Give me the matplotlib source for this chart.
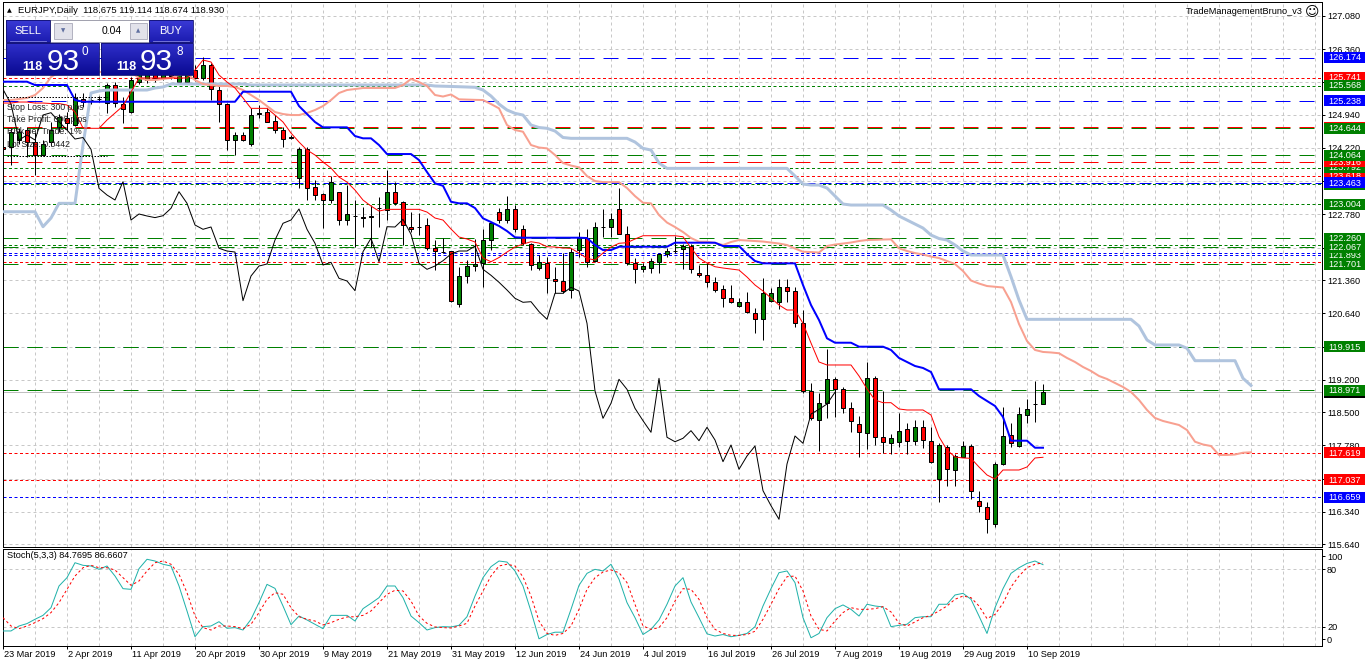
import numpy as np
import matplotlib
matplotlib.use('Agg')
import matplotlib.pyplot as plt
from matplotlib.patches import Rectangle
from matplotlib.colors import LinearSegmentedColormap
from matplotlib.transforms import blended_transform_factory

plt.rcParams['font.family'] = ['Liberation Sans', 'DejaVu Sans']
plt.rcParams['lines.scale_dashes'] = False
plt.rcParams['axes.linewidth'] = 0.72

# ---------------- data ----------------
opens = [124.239, 124.232, 124.390, 124.607, 124.354, 124.066, 124.347, 124.678, 124.866, 124.715,
         125.272, 125.257, 125.278, 125.185, 125.581, 125.170, 125.003, 125.653, 125.689, 125.906,
         125.733, 125.949, 125.653, 125.653, 125.906, 125.726, 126.014, 125.473, 125.170, 124.391,
         124.499, 124.298, 124.947, 125.003, 124.802, 124.607, 124.456, 123.562, 124.189, 123.380,
         123.216, 123.092, 123.272, 122.659, 122.752, 122.718, 122.718, 122.919, 122.876, 123.272,
         123.042, 122.514, 122.514, 122.551, 122.047, 121.973, 121.988, 120.841, 121.447, 121.663,
         121.722, 122.226, 122.839, 122.659, 122.897, 122.458, 122.133, 121.614, 121.722, 121.382,
         121.339, 121.144, 122.009, 122.263, 121.778, 122.514, 122.514, 122.891, 122.350, 121.722,
         121.592, 121.614, 121.756, 121.916, 121.994, 122.031, 122.096, 121.505, 121.462, 121.311,
         121.166, 120.964, 120.804, 120.878, 120.640, 120.510, 120.913, 120.891, 121.215, 121.122,
         120.423, 118.958, 118.330, 118.692, 119.211, 118.994, 118.583, 118.237, 118.042, 119.232,
         117.956, 117.839, 117.860, 118.129, 117.882, 118.172, 117.882, 117.047, 117.739, 117.248,
         117.536, 117.767, 116.577, 116.453, 116.079, 117.378, 118.006, 117.774, 118.438, 118.670,
         118.675]
highs = [124.369, 124.650, 124.650, 124.672, 124.570, 124.391, 124.780, 124.960, 124.997, 125.408,
         125.408, 125.343, 125.343, 125.625, 125.646, 125.328, 125.754, 125.949, 126.014, 125.992,
         126.057, 126.036, 125.992, 126.036, 126.014, 126.194, 126.057, 125.625, 125.185, 124.570,
         124.570, 125.083, 125.148, 125.083, 124.932, 124.672, 124.499, 124.239, 124.246, 123.525,
         123.243, 123.612, 123.272, 123.417, 123.092, 122.947, 122.984, 123.163, 123.741, 123.488,
         123.077, 122.839, 122.804, 122.696, 122.226, 122.263, 121.988, 121.648, 121.792, 122.241,
         122.458, 122.622, 122.912, 123.179, 122.984, 122.551, 122.155, 121.902, 121.865, 121.648,
         121.945, 122.053, 122.406, 122.464, 122.622, 122.891, 122.804, 123.345, 122.529, 121.837,
         121.722, 121.830, 121.951, 122.047, 122.313, 122.140, 122.140, 121.685, 121.722, 121.432,
         121.252, 121.252, 120.964, 121.107, 120.748, 121.397, 121.181, 121.376, 121.376, 121.215,
         120.711, 119.124, 118.908, 119.867, 119.267, 119.051, 118.726, 118.416, 119.592, 119.282,
         118.964, 118.027, 118.488, 118.272, 118.330, 118.330, 118.185, 117.826, 117.789, 117.594,
         117.882, 117.810, 116.800, 116.562, 117.428, 118.605, 118.259, 118.605, 118.791, 119.174,
         119.114]
lows = [124.044, 123.850, 124.300, 124.023, 123.633, 124.044, 124.261, 124.560, 124.607, 124.700,
        125.105, 125.170, 125.213, 124.969, 125.112, 124.765, 124.975, 125.603, 125.625, 125.646,
        125.689, 125.711, 125.603, 125.625, 125.668, 125.689, 125.257, 124.787, 124.174, 124.066,
        124.369, 124.261, 124.867, 124.780, 124.542, 124.239, 124.412, 123.352, 123.092, 123.092,
        122.486, 123.021, 122.551, 122.551, 122.081, 122.514, 122.081, 122.514, 122.659, 122.984,
        122.118, 122.406, 122.334, 122.009, 121.577, 121.938, 120.891, 120.783, 121.302, 121.555,
        121.215, 122.009, 122.588, 122.588, 122.406, 122.118, 121.577, 121.577, 121.079, 121.073,
        121.079, 120.971, 121.865, 121.648, 121.756, 122.298, 122.298, 122.350, 121.685, 121.302,
        121.540, 121.505, 121.505, 121.852, 121.951, 121.592, 121.505, 121.425, 121.215, 121.107,
        120.770, 120.856, 120.770, 120.640, 120.207, 120.062, 120.891, 120.726, 120.891, 120.350,
        118.908, 118.330, 117.666, 118.367, 118.401, 118.488, 118.077, 117.523, 117.696, 117.789,
        117.622, 117.594, 117.752, 117.594, 117.789, 117.718, 117.406, 116.562, 116.903, 116.903,
        117.523, 116.614, 116.345, 115.877, 116.008, 117.356, 117.752, 117.739, 118.272, 118.293,
        118.674]
closes = [124.196, 124.570, 124.570, 124.354, 124.066, 124.304, 124.607, 124.895, 124.758, 125.293,
          125.220, 125.246, 125.272, 125.581, 125.185, 125.055, 125.689, 125.863, 125.906, 125.733,
          125.949, 125.776, 125.863, 125.906, 125.733, 126.014, 125.488, 125.170, 124.391, 124.499,
          124.391, 124.932, 124.982, 124.787, 124.607, 124.412, 124.445, 124.189, 123.345, 123.200,
          123.092, 123.488, 122.659, 122.789, 122.746, 122.711, 122.752, 122.912, 123.272, 123.021,
          122.551, 122.458, 122.508, 122.047, 121.988, 121.966, 120.913, 121.447, 121.663, 121.707,
          122.226, 122.588, 122.659, 122.897, 122.458, 122.155, 121.685, 121.743, 121.397, 121.339,
          121.129, 121.973, 122.263, 121.756, 122.514, 122.508, 122.674, 122.350, 121.722, 121.592,
          121.663, 121.778, 121.923, 121.988, 121.988, 122.096, 121.592, 121.462, 121.311, 121.144,
          120.964, 120.878, 120.891, 120.676, 120.510, 121.073, 121.073, 121.202, 121.122, 120.423,
          118.958, 118.367, 118.692, 119.211, 118.994, 118.583, 118.315, 118.064, 119.232, 117.956,
          117.860, 117.934, 118.099, 117.882, 118.172, 117.897, 117.428, 117.789, 117.263, 117.551,
          117.767, 116.800, 116.475, 116.181, 117.378, 117.984, 117.826, 118.460, 118.562, 118.676,
          118.930]

tenkan = [125.191, 125.191, 125.213, 125.213, 125.191, 125.191, 125.180, 125.180, 125.148, 124.996,
          124.650, 124.644, 124.644, 124.823, 124.975, 125.126, 125.430, 125.733, 125.733, 125.733,
          125.733, 125.733, 125.733, 125.733, 125.906, 126.122, 126.079, 125.798, 125.646, 125.516,
          125.300, 125.076, 125.076, 125.076, 124.931, 124.780, 124.542, 124.347, 124.174, 124.066,
          123.914, 123.784, 123.589, 123.480, 123.307, 123.091, 122.961, 122.853, 122.890, 122.890,
          122.890, 122.890, 122.890, 122.831, 122.702, 122.658, 122.464, 122.291, 122.248, 122.183,
          121.836, 121.756, 121.847, 121.966, 122.074, 122.139, 122.189, 122.161, 122.081, 122.074,
          122.053, 122.046, 121.944, 121.829, 121.793, 121.944, 122.074, 122.155, 122.168, 122.248,
          122.319, 122.319, 122.319, 122.319, 122.319, 122.297, 122.053, 121.836, 121.728, 121.648,
          121.620, 121.598, 121.576, 121.425, 121.252, 121.122, 120.970, 120.819, 120.711, 120.711,
          120.423, 119.997, 119.586, 119.521, 119.521, 119.521, 119.521, 119.283, 119.004, 118.763,
          118.705, 118.705, 118.569, 118.547, 118.547, 118.547, 118.438, 117.968, 117.681, 117.529,
          117.508, 117.501, 117.313, 117.140, 117.053, 117.248, 117.248, 117.248, 117.313, 117.508,
          117.523]

kijun = [125.653, 125.653, 125.653, 125.653, 125.581, 125.581, 125.581, 125.581, 125.581, 125.256,
         125.219, 125.219, 125.219, 125.219, 125.219, 125.219, 125.219, 125.219, 125.219, 125.219,
         125.219, 125.219, 125.219, 125.219, 125.219, 125.219, 125.219, 125.219, 125.219, 125.219,
         125.436, 125.436, 125.436, 125.436, 125.436, 125.436, 125.436, 125.126, 124.953, 124.780,
         124.665, 124.665, 124.665, 124.665, 124.477, 124.427, 124.427, 124.282, 124.087, 124.087,
         124.087, 124.087, 123.957, 123.697, 123.452, 123.400, 123.054, 123.020, 123.020, 122.918,
         122.695, 122.615, 122.529, 122.420, 122.284, 122.276, 122.276, 122.276, 122.276, 122.276,
         122.276, 122.276, 122.276, 122.269, 122.118, 122.009, 122.009, 122.081, 122.081, 122.081,
         122.081, 122.081, 122.081, 122.081, 122.168, 122.168, 122.168, 122.168, 122.168, 122.168,
         122.096, 122.096, 122.096, 121.923, 121.771, 121.721, 121.721, 121.721, 121.721, 121.721,
         121.252, 120.819, 120.494, 120.098, 120.003, 120.003, 120.003, 119.917, 119.917, 119.917,
         119.917, 119.846, 119.673, 119.586, 119.499, 119.456, 119.369, 118.995, 118.995, 118.995,
         118.995, 118.995, 118.850, 118.742, 118.634, 118.395, 117.882, 117.882, 117.882, 117.730,
         117.730]

senkou_a = [125.256, 125.256, 125.278, 125.300, 125.365, 125.516, 125.754, 125.863, 125.863, 125.863,
            125.863, 125.863, 125.863, 125.863, 125.863, 125.863, 125.863, 125.733, 125.689, 125.689,
            125.711, 125.733, 125.798, 125.819, 125.689, 125.603, 125.581, 125.560, 125.560, 125.538,
            125.473, 125.365, 125.256, 125.126, 124.996, 124.953, 124.931, 124.931, 124.975, 125.040,
            125.126, 125.256, 125.408, 125.473, 125.495, 125.516, 125.516, 125.516, 125.516, 125.516,
            125.581, 125.711, 125.646, 125.560, 125.365, 125.332, 125.376, 125.271, 125.265, 125.260,
            125.256, 125.169, 125.076, 124.715, 124.607, 124.570, 124.282, 124.228, 124.210, 124.066,
            123.892, 123.838, 123.799, 123.611, 123.502, 123.480, 123.480, 123.480, 123.351, 123.177,
            123.033, 123.020, 122.766, 122.604, 122.507, 122.399, 122.269, 122.189, 122.189, 122.161,
            122.118, 122.183, 122.226, 122.215, 122.204, 122.193, 122.172, 122.150, 122.118, 122.042,
            121.972, 121.966, 121.955, 122.096, 122.128, 122.150, 122.172, 122.204, 122.226, 122.230,
            122.237, 122.241, 122.046, 121.988, 121.944, 121.912, 121.868, 121.836, 121.771, 121.706,
            121.555, 121.349, 121.284, 121.230, 121.215, 121.198, 120.884, 120.408, 120.040, 119.846,
            119.803, 119.792, 119.775, 119.673, 119.586, 119.478, 119.391, 119.283, 119.218, 119.131,
            119.045, 118.936, 118.763, 118.547, 118.374, 118.309, 118.265, 118.222, 118.113, 117.860,
            117.800, 117.767, 117.573, 117.573, 117.583, 117.622, 117.631]

senkou_b = [122.838, 122.838, 122.838, 122.838, 122.838, 122.514, 122.702, 123.020, 123.020, 123.020,
            124.282, 125.408, 125.451, 125.473, 125.473, 125.473, 125.473, 125.473, 125.473, 125.516,
            125.538, 125.603, 125.603, 125.603, 125.603, 125.603, 125.603, 125.603, 125.603, 125.603,
            125.603, 125.581, 125.581, 125.581, 125.581, 125.581, 125.581, 125.581, 125.581, 125.581,
            125.581, 125.581, 125.581, 125.581, 125.581, 125.581, 125.581, 125.581, 125.581, 125.581,
            125.581, 125.581, 125.581, 125.581, 125.560, 125.554, 125.550, 125.545, 125.538, 125.532,
            125.473, 125.343, 125.169, 125.040, 124.968, 124.931, 124.715, 124.661, 124.644, 124.585,
            124.445, 124.427, 124.427, 124.427, 124.427, 124.427, 124.427, 124.427, 124.427, 124.347,
            124.210, 124.174, 123.892, 123.777, 123.777, 123.777, 123.777, 123.777, 123.777, 123.777,
            123.777, 123.777, 123.777, 123.777, 123.777, 123.777, 123.777, 123.777, 123.777, 123.611,
            123.437, 123.416, 123.416, 123.351, 123.177, 123.005, 122.983, 122.983, 122.983, 122.983,
            122.983, 122.874, 122.745, 122.658, 122.572, 122.485, 122.334, 122.258, 122.226, 122.118,
            121.988, 121.901, 121.901, 121.901, 121.901, 121.901, 121.432, 120.927, 120.509, 120.509,
            120.509, 120.509, 120.509, 120.509, 120.509, 120.509, 120.509, 120.509, 120.509, 120.509,
            120.509, 120.509, 120.364, 120.062, 119.954, 119.954, 119.954, 119.954, 119.883, 119.614,
            119.614, 119.614, 119.614, 119.614, 119.614, 119.233, 119.077]

stoch_k = [15.5, 15.5, 20.7, 23.2, 27.7, 31.8, 39.8, 62.5, 71.2, 86.8,
           84.1, 83.4, 79.9, 83.4, 72.9, 59.7, 59.0, 80.6, 90.4, 88.6,
           85.2, 83.4, 62.5, 36.4, 9.5, 20.0, 20.7, 25.2, 18.3, 19.0,
           16.5, 27.7, 45.1, 64.2, 60.0, 41.6, 22.1, 31.1, 27.0, 22.5,
           17.9, 31.8, 31.8, 31.8, 25.9, 38.8, 44.4, 50.3, 62.5, 62.5,
           50.3, 31.1, 24.2, 16.5, 19.0, 20.0, 19.7, 21.4, 30.4, 52.0,
           71.2, 82.7, 88.6, 87.5, 78.2, 62.5, 36.0, 7.3, 11.8, 14.2,
           14.2, 38.1, 63.2, 75.7, 79.9, 78.2, 85.2, 69.5, 45.1, 29.4,
           11.8, 17.2, 27.0, 43.4, 62.5, 71.2, 45.8, 29.4, 12.5, 10.2,
           11.8, 9.5, 10.9, 12.9, 20.0, 41.6, 59.7, 76.4, 78.2, 66.0,
           29.4, 8.4, 12.9, 29.4, 38.8, 42.7, 38.1, 31.1, 43.4, 41.6,
           40.6, 20.0, 21.4, 22.5, 29.4, 30.4, 30.4, 43.4, 43.4, 53.1,
           54.8, 48.6, 31.1, 12.9, 39.8, 59.7, 75.7, 81.6, 86.1, 88.6,
           84.77]
stoch_d = [29.4, 20.7, 17.9, 20.7, 24.2, 28.4, 34.7, 45.1, 59.0, 72.9,
           81.6, 84.1, 81.6, 81.6, 79.2, 71.2, 63.2, 67.7, 78.2, 86.8,
           88.6, 85.2, 74.7, 55.5, 31.1, 19.0, 16.5, 20.7, 20.7, 20.0,
           17.9, 22.5, 34.7, 48.6, 55.5, 53.8, 39.8, 30.4, 27.7, 25.9,
           21.8, 24.2, 27.7, 30.1, 30.4, 31.8, 36.4, 45.1, 53.8, 58.0,
           57.3, 46.8, 31.1, 23.5, 19.7, 19.0, 18.6, 20.7, 23.5, 41.6,
           57.3, 72.9, 83.4, 85.2, 83.4, 72.0, 52.0, 25.9, 12.9, 10.9,
           12.9, 20.7, 38.1, 59.0, 71.2, 77.1, 79.2, 76.4, 66.0, 43.4,
           20.7, 17.2, 19.0, 29.4, 46.8, 59.7, 59.0, 48.6, 29.4, 17.2,
           12.9, 10.9, 10.9, 11.8, 15.2, 27.7, 43.4, 59.7, 72.2, 72.9,
           57.3, 31.1, 17.2, 15.5, 25.9, 34.7, 39.8, 38.1, 38.1, 38.8,
           40.9, 35.4, 23.5, 20.7, 24.9, 29.4, 31.8, 36.4, 41.6, 48.6,
           52.0, 50.3, 41.6, 28.4, 32.8, 44.4, 61.5, 72.9, 81.6, 85.2,
           86.66]

date_labels = ['23 Mar 2019', '2 Apr 2019', '11 Apr 2019', '20 Apr 2019', '30 Apr 2019',
               '9 May 2019', '21 May 2019', '31 May 2019', '12 Jun 2019', '24 Jun 2019',
               '4 Jul 2019', '16 Jul 2019', '26 Jul 2019', '7 Aug 2019', '19 Aug 2019',
               '29 Aug 2019', '10 Sep 2019']
date_step = 8

price_ticks = [127.08, 126.36, 125.64, 124.94, 124.22, 123.50, 122.78, 122.06, 121.36,
               120.64, 119.92, 119.20, 118.50, 117.78, 117.06, 116.34, 115.64]

level_values = [126.174, 125.741, 125.568, 125.238, 124.665, 124.644, 124.064, 123.916, 123.792,
                123.618, 123.463, 123.43, 123.004, 122.260, 122.11, 122.067, 121.94, 121.893,
                121.75, 121.701, 119.915, 119.915, 118.971, 117.619, 117.037, 116.659]
level_colors = ['#0000ff', '#ff0000', '#008000', '#0000ff', '#ff0000', '#008000', '#008000', '#ff0000',
                '#008000', '#ff0000', '#0000ff', '#008000', '#008000', '#008000', '#008000', '#008000',
                '#0000ff', '#0000ff', '#ff0000', '#008000', '#0000ff', '#008000', '#008000', '#ff0000',
                '#ff0000', '#0000ff']
level_styles = ['dash', 'dot', 'dot', 'dash', 'dash', 'dash', 'dash', 'dash', 'dot', 'dot',
                'mdash', 'dot', 'dot', 'dash', 'dot', 'dash', 'dot', 'dot', 'dot', 'dash',
                'dash', 'dash', 'dash', 'dot', 'dot', 'dot']
bid_price = 118.930

label_levels = [126.174, 125.741, 125.568, 125.238, 124.665, 124.644, 124.064, 123.916, 123.792,
                123.618, 123.43, 123.463, 123.004, 122.260, 122.067, 121.893, 121.701, 119.915,
                118.930, 118.971, 117.619, 117.037, 116.659]
label_colors = ['#0000ff', '#ff0000', '#008000', '#0000ff', '#ff0000', '#008000', '#008000', '#ff0000',
                '#008000', '#ff0000', '#008000', '#0000ff', '#008000', '#008000', '#008000', '#008000',
                '#008000', '#008000', '#000000', '#008000', '#ff0000', '#ff0000', '#0000ff']
label_shown = [True, True, True, True, False, True, True, True, True, True, False, True, True,
               True, True, True, True, True, False, True, True, True, True]
label_z = [10, 10, 11, 10, 10, 11, 14, 13, 12, 11, 12.5, 15, 10, 14, 13, 12, 15, 10, 10, 11, 10, 10, 10]

trade_lines = [125.328, 124.044]
trade_texts = ['Stop Loss: 300 pips', 'Take Profit: 600 pips', 'Risk per Trade: 1%', 'Lot Size: 0.0442']

# ---------------- figure ----------------
W, H = 1368, 667
fig = plt.figure(figsize=(W / 100, H / 100), dpi=100)
fig.patch.set_facecolor('white')


def frac(l, t, r, b):
    return [l / W, 1 - b / H, (r - l) / W, (b - t) / H]


ax = fig.add_axes(frac(3, 2, 1322, 546.5))
axs = fig.add_axes(frac(3, 549, 1322, 645.5))
XMAX = 164.875
ax.set_xlim(0, XMAX)
ax.set_ylim(115.592, 127.378)
axs.set_xlim(0, XMAX)
axs.set_ylim(0.31, 101.15)

PX = 0.72
DASH = (0, (15 * PX, 9 * PX))
MDASH = (0, (12 * PX, 4 * PX))
DOT = (0, (3 * PX, 2.5 * PX))
style_map = {'dash': DASH, 'mdash': MDASH, 'dot': DOT}

grid_kw = dict(color='#c8c8c8', lw=PX, linestyle=(0, (3 * PX, 3 * PX)), zorder=0.5)
for a in (ax, axs):
    for g in range(4, 165, 4):
        a.axvline(g, **grid_kw)
for t in price_ticks:
    ax.axhline(t, **grid_kw)
for t in (80, 20):
    axs.axhline(t, **grid_kw)

for lv, col, st in zip(level_values, level_colors, level_styles):
    ax.axhline(lv, color=col, lw=PX, linestyle=style_map[st], zorder=1)
ax.axhline(bid_price, color='#c0c0c0', lw=PX, zorder=1)

# candles
o = np.array(opens); h = np.array(highs); l = np.array(lows); c = np.array(closes)
idx = np.arange(len(o))
up = c >= o
body_lo = np.minimum(o, c)
body_h = np.maximum(np.abs(c - o), 0.004)
cols = np.where(up, '#008000', '#ff0000')
ax.vlines(idx, l, h, color='black', lw=PX, zorder=2)
ax.bar(idx, body_h, bottom=body_lo, width=0.62, color=cols, edgecolor='black', linewidth=PX, zorder=2.1)

# ichimoku
ax.plot(np.arange(len(senkou_b)), senkou_b, color='#b0c4de', lw=3 * PX, zorder=3)
ax.plot(np.arange(len(senkou_a)), senkou_a, color='#f8a090', lw=2 * PX, zorder=3.1)
ax.plot(np.arange(len(closes) - 26), closes[26:], color='black', lw=PX, zorder=3.2)
ax.plot(idx, kijun, color='#0000ff', lw=2 * PX, zorder=3.3)
ax.plot(idx, tenkan, color='#ff0000', lw=PX, zorder=3.4)
ax.hlines(trade_lines, 0.5, 13, color='black', lw=PX, linestyle=(0, (1.5 * PX, 1.5 * PX)), zorder=3.5)

# stochastic
axs.plot(idx, stoch_k, color='#20b2aa', lw=PX, zorder=3)
axs.plot(idx, stoch_d, color='#ff0000', lw=PX, linestyle=(0, (2.5 * PX, 2.5 * PX)), zorder=3.1)

# axes ticks
ax.yaxis.tick_right()
ax.set_yticks(price_ticks)
ax.set_yticklabels([f'{t:.3f}' for t in price_ticks])
ax.tick_params(axis='y', length=3 * PX, width=PX, pad=2 * PX, labelsize=6.6)
ax.set_xticks([])
axs.yaxis.tick_right()
axs.set_yticks([93.7, 80, 20, 6.8])
axs.set_yticklabels(['100', '80', '20', '0'])
axs.tick_params(axis='y', length=3 * PX, width=PX, pad=2 * PX, labelsize=6.6)
date_idx = [k * date_step for k in range(len(date_labels))]
axs.set_xticks(date_idx)
axs.set_xticklabels([])
axs.tick_params(axis='x', length=3 * PX, width=PX)
trans = blended_transform_factory(axs.transData, axs.transAxes)
for i, lab in zip(date_idx, date_labels):
    axs.text(i + 0.15, -0.098, lab, transform=trans, ha='left', va='center', fontsize=6.6, clip_on=False)
axs.text(0.5, 0.93, 'Stoch(5,3,3) %.4f %.4f' % (84.7695, 86.6607), transform=trans, ha='left',
         va='center', fontsize=6.6)

# ---------------- overlay (pixel coords, y from top) ----------------
ov = fig.add_axes([0, 0, 1, 1])
ov.set_axis_off()
ov.patch.set_alpha(0)


def ypix(level):
    return H - ax.transData.transform((0, level))[1]


for lv, col, z, shown in zip(label_levels, label_colors, label_z, label_shown):
    y = ypix(lv)
    ov.add_patch(Rectangle((1324, y - 5.5), 41, 11, fc=col, ec='none', zorder=z))
    if shown:
        ov.text(1344.5, y + 0.3, f'{lv:.3f}', color='white', fontsize=6.6, ha='center', va='center',
                zorder=z + 0.01)

cm_top = LinearSegmentedColormap.from_list('t', ['#3a3ad6', '#1c1cb0'])
cm_low = LinearSegmentedColormap.from_list('lw', ['#3030cc', '#0a0a92'])


def grad_box(x0, y0, x1, y1, cmap):
    g = np.linspace(0, 1, 64).reshape(-1, 1)
    ov.imshow(g, extent=(x0, x1, y1, y0), cmap=cmap, aspect='auto', zorder=30, interpolation='bilinear')
    ov.add_patch(Rectangle((x0, y0), x1 - x0, y1 - y0, fill=False, ec='#101070', lw=0.6, zorder=30.5))


grad_box(6, 20, 49.5, 41.7, cm_top)
grad_box(149, 20, 193, 41.7, cm_top)
grad_box(6, 42.7, 99, 75, cm_low)
grad_box(101, 42.7, 193, 75, cm_low)
ov.add_patch(Rectangle((50, 20), 98.5, 21.7, fc='white', ec='#9090a0', lw=0.6, zorder=30))
ov.add_patch(Rectangle((54, 22.5), 17.5, 16.5, fc='#e2e2ea', ec='#a8a8b8', lw=0.6, zorder=31))
ov.add_patch(Rectangle((129.5, 22.5), 17.5, 16.5, fc='#e2e2ea', ec='#a8a8b8', lw=0.6, zorder=31))
ov.text(62.7, 30.5, '▼', fontsize=4, color='#6070a0', ha='center', va='center', zorder=32,
        family=['DejaVu Sans'])
ov.text(138.2, 30.5, '▲', fontsize=4, color='#6070a0', ha='center', va='center', zorder=32,
        family=['DejaVu Sans'])
ov.text(121.5, 31, '0.04', fontsize=7.5, color='black', ha='right', va='center', zorder=32)
ov.text(27.5, 31, 'SELL', fontsize=8, color='white', ha='center', va='center', zorder=32)
ov.text(171, 31, 'BUY', fontsize=8, color='white', ha='center', va='center', zorder=32)
ov.plot([10, 46], [40.8, 40.8], color='#8080e0', lw=0.6, zorder=31)
ov.plot([153, 189], [40.8, 40.8], color='#8080e0', lw=0.6, zorder=31)
for x118, x93, xsup, sup in ((22.5, 46.5, 81.5, '0'), (116.5, 140, 176.5, '8')):
    ov.text(x118, 70, '118', fontsize=9, fontweight='bold', color='white', ha='left', va='baseline', zorder=32)
    ov.text(x93, 70, '93', fontsize=21.5, color='white', ha='left', va='baseline', zorder=32)
    ov.text(xsup, 55, sup, fontsize=8.5, color='white', ha='left', va='baseline', zorder=32)

ov.text(9.5, 10.5, '▲', fontsize=4.5, color='black', ha='center', va='center', zorder=32,
        family=['DejaVu Sans'])
ov.text(18, 10.5, 'EURJPY,Daily  118.675 119.114 118.674 118.930', fontsize=6.8, color='black',
        ha='left', va='center', zorder=32)
ov.text(1303, 12, 'TradeManagementBruno_v3', fontsize=6.6, color='black', ha='right', va='center', zorder=32)
ov.text(1312, 12, '☺', fontsize=10, color='black', ha='center', va='center', zorder=32,
        family=['DejaVu Sans'])
for k, t in enumerate(trade_texts):
    ov.text(7, 107 + 12.4 * k, t, fontsize=6.3, color='#202020', ha='left', va='center', zorder=32)

ov.set_xlim(0, W)
ov.set_ylim(H, 0)

fig.savefig('out.png', dpi=100, facecolor='white')
